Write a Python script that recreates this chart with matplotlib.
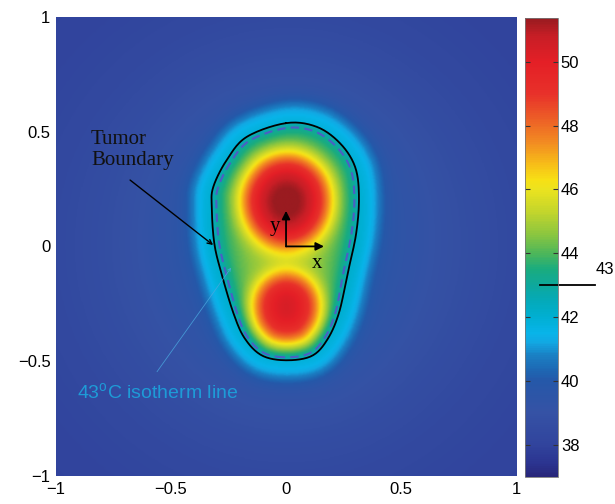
import numpy as np
import matplotlib
matplotlib.use("Agg")
import matplotlib.pyplot as plt
from matplotlib.colors import LinearSegmentedColormap
from matplotlib.path import Path

plt.rcParams['font.family'] = ['Liberation Sans', 'DejaVu Sans']
plt.rcParams['mathtext.fontset'] = 'custom'
plt.rcParams['mathtext.rm'] = 'Liberation Sans'

# ---------------- data ----------------
# tumor boundary (control points, data units)
boundary_x = [0.0, -0.171, -0.258, -0.316, -0.323, -0.312, -0.281, -0.229, -0.180, -0.105,
              0.0, 0.112, 0.180, 0.230, 0.268, 0.305, 0.317, 0.300, 0.235, 0.133]
boundary_y = [0.537, 0.477, 0.376, 0.260, 0.173, 0.014, -0.117, -0.290, -0.400, -0.475,
              -0.496, -0.477, -0.405, -0.290, -0.117, 0.057, 0.217, 0.347, 0.449, 0.521]

# heating spots: centres, plateau amplitude, plateau radii, core amplitude, tail amplitude
spot_x = [0.0, 0.0]
spot_y = [0.20, -0.28]
spot_amp = [6.0, 5.0]
spot_radius_x = [0.20, 0.16]
spot_radius_y = [0.21, 0.165]
spot_core = [0.5, 0.25]
spot_tail = [1.4, 1.4]

# temperature levels (deg C)
t_tumor_edge = 42.4
t_tumor_rise = 1.3
t_body = 37.8
t_body_rise = 1.8
t_halo = 1.8
t_halo_slow = 0.9
isotherm_level = 43
t_min, t_max = 37.0, 51.36

cbar_ticks = [38, 40, 42, 44, 46, 48, 50]
axis_ticks = [-1, -0.5, 0, 0.5, 1]
axis_ticklabels = ['\u22121', '\u22120.5', '0', '0.5', '1']

# colour bar colours (value, colour)
cmap_values = [37.0, 37.4, 38.0, 39.0, 40.0, 40.3, 40.8, 41.2, 41.5, 42.0, 42.5, 43.0, 43.5,
               44.0, 44.6, 45.3, 46.0, 46.3, 46.8, 47.5, 48.3, 49.0, 50.0, 50.8, 51.36]
cmap_colors = ['#28267a', '#2b3490', '#31449d', '#3552a5', '#2558a9', '#1e66b2', '#1a80c4',
               '#12a8e3', '#08b4e9', '#00afd2', '#04aab9', '#0ea89c', '#1aac7e', '#4db65a',
               '#8cc63f', '#c3d52c', '#ebe31f', '#f7e015', '#f7bd18', '#f28a22', '#ec5a27',
               '#e8312a', '#e41f26', '#c81e26', '#9a1b20']


# ---------------- geometry helpers ----------------
def closed_curve(px, py, n=14):
    P = np.column_stack([px, py])
    N = len(P)
    t = np.linspace(0, 1, n, endpoint=False)[:, None]
    out = []
    for i in range(N):
        p0, p1, p2, p3 = P[i - 1], P[i], P[(i + 1) % N], P[(i + 2) % N]
        out.append(0.5 * (2 * p1 + (-p0 + p2) * t + (2 * p0 - 5 * p1 + 4 * p2 - p3) * t ** 2
                          + (-p0 + 3 * p1 - 3 * p2 + p3) * t ** 3))
    out = np.vstack(out)
    return np.vstack([out, out[:1]])


curve = closed_curve(boundary_x, boundary_y)

n = 401
g = np.linspace(-1, 1, n)
X, Y = np.meshgrid(g, g)
pts = np.column_stack([X.ravel(), Y.ravel()])

dist = np.full(pts.shape[0], np.inf)
for a, b in zip(curve[:-1], curve[1:]):
    ab = b - a
    L = ab @ ab
    if L == 0:
        continue
    tt = np.clip(((pts - a) @ ab) / L, 0, 1)
    proj = a + tt[:, None] * ab
    dd = np.hypot(pts[:, 0] - proj[:, 0], pts[:, 1] - proj[:, 1])
    dist = np.minimum(dist, dd)
inside = Path(curve).contains_points(pts)
d = np.where(inside, -dist, dist).reshape(X.shape)

# ---------------- temperature field ----------------
r2 = X ** 2 + Y ** 2
dout = np.clip(d, 0, None)
T_out = (t_body + t_body_rise * np.exp(-r2 / 0.9)
         + t_halo * np.exp(-(dout / 0.1) ** 3)
         + t_halo_slow * np.exp(-dout / 0.15))
G = np.full(X.shape, t_tumor_rise)
for cx, cy, A, sx, sy, c, tl in zip(spot_x, spot_y, spot_amp, spot_radius_x, spot_radius_y,
                                    spot_core, spot_tail):
    q = np.hypot((X - cx) / sx, (Y - cy) / sy)
    r = np.hypot(X - cx, Y - cy)
    G += A * np.exp(-q ** 4) + c * np.exp(-(r / 0.07) ** 2) + tl * np.exp(-(r / 0.28) ** 2)
T_in = t_tumor_edge + G * (1 - np.exp(np.clip(d, None, 0) / 0.05))
T = np.where(d < 0, T_in, T_out)

cmap = LinearSegmentedColormap.from_list(
    'pic', [((v - t_min) / (t_max - t_min), c) for v, c in zip(cmap_values, cmap_colors)])

# ---------------- figure ----------------
fig = plt.figure(figsize=(6.15, 5.04), dpi=100)
ax = fig.add_axes([0.0911, 0.0556, 0.748, 0.911])
cax = fig.add_axes([0.8537, 0.0536, 0.0537, 0.9104])

im = ax.imshow(T, extent=[-1, 1, -1, 1], origin='lower', cmap=cmap, vmin=t_min, vmax=t_max,
               interpolation='bilinear', aspect='auto')
ax.contour(X, Y, T, levels=[isotherm_level], colors='#4b5fc4',
           linestyles=[(0, (4, 2.5))], linewidths=1.5)
ax.plot(curve[:, 0], curve[:, 1], color='black', lw=1.3)

ax.set_xlim(-1, 1)
ax.set_ylim(-1, 1)
ax.set_xticks(axis_ticks)
ax.set_xticklabels(axis_ticklabels)
ax.set_yticks(axis_ticks)
ax.set_yticklabels(axis_ticklabels)
ax.tick_params(length=0, labelsize=12, pad=4)
for s in ax.spines.values():
    s.set_visible(False)

# local axes arrows at origin
arrow_kw = dict(arrowstyle='-|>', color='black', lw=1.3, mutation_scale=12, shrinkA=0, shrinkB=0)
ax.annotate('', xy=(0, 0.155), xytext=(0, 0), arrowprops=arrow_kw)
ax.annotate('', xy=(0.165, 0), xytext=(0, 0), arrowprops=arrow_kw)
ax.text(-0.048, 0.086, 'y', family='Liberation Serif', fontsize=15, ha='center', va='center')
ax.text(0.133, -0.073, 'x', family='Liberation Serif', fontsize=15, ha='center', va='center')

# Tumor boundary label
ax.text(-0.848, 0.507, 'Tumor\nBoundary', family='Liberation Serif', fontsize=15,
        ha='left', va='top', color='#111111', linespacing=1.15)
ax.annotate('', xy=(-0.317, 0.006), xytext=(-0.678, 0.289),
            arrowprops=dict(arrowstyle='->', color='black', lw=1.0, mutation_scale=8,
                            shrinkA=0, shrinkB=0))

# isotherm label
ax.text(-0.909, -0.637, '43$^{\\mathrm{o}}$C isotherm line', fontsize=14, color='#1e9bd7',
        ha='left', va='center')
ax.annotate('', xy=(-0.239, -0.093), xytext=(-0.561, -0.546),
            arrowprops=dict(arrowstyle='->', color='#4aa8e0', lw=0.6, mutation_scale=5,
                            shrinkA=0, shrinkB=0, alpha=0.8))

# colour bar
cb = fig.colorbar(im, cax=cax, ticks=cbar_ticks)
cb.outline.set_linewidth(0.6)
cb.outline.set_edgecolor('#777777')
cax.tick_params(direction='in', left=True, right=True, length=3.5, width=0.8,
                color='#333333', labelsize=12, pad=2)
cax.plot([0.45, 2.12], [isotherm_level, isotherm_level], transform=cax.get_yaxis_transform(),
         color='black', lw=1.3, clip_on=False)
cax.text(2.15, isotherm_level + 0.25, str(isotherm_level), transform=cax.get_yaxis_transform(),
         fontsize=12, ha='left', va='bottom')

fig.savefig('out.png', dpi=100)
